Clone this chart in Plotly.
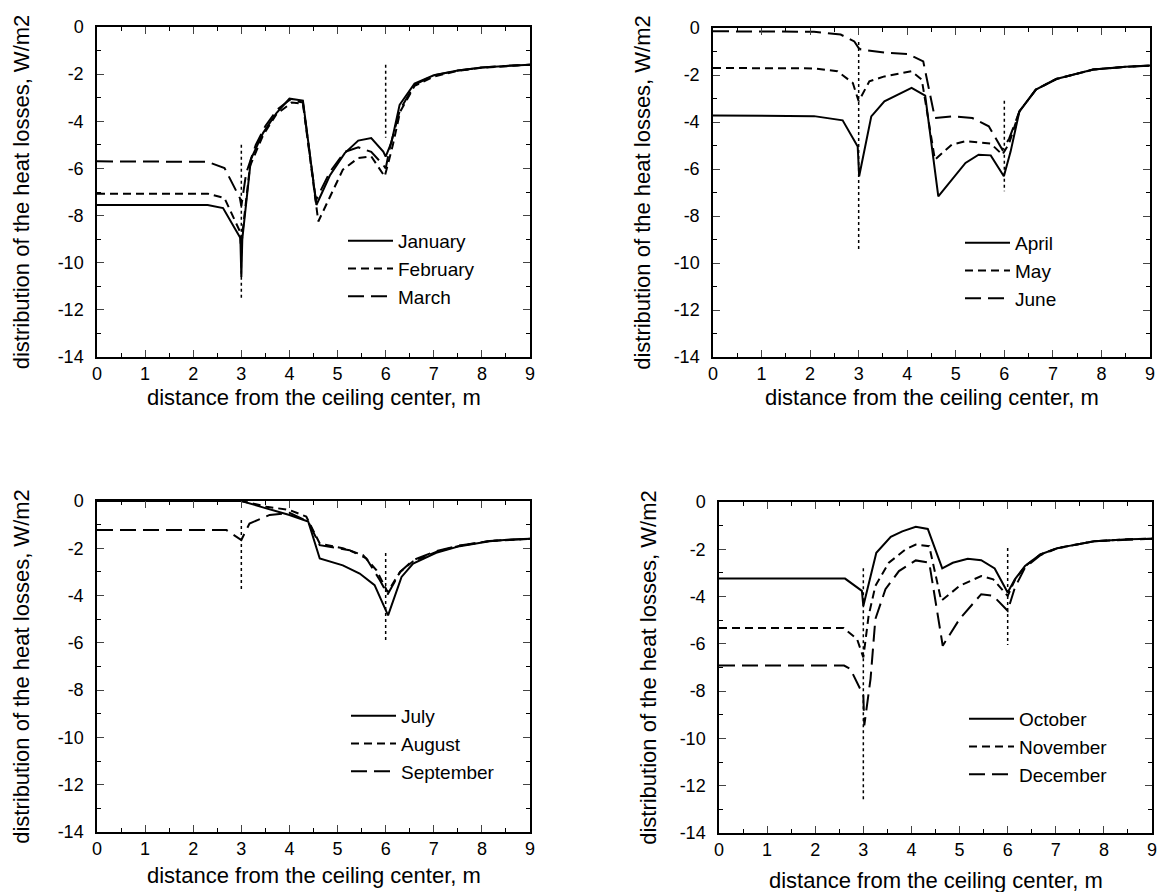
import plotly.graph_objects as go

# ---------------- data ----------------
months = ["January", "February", "March", "April", "May", "June",
          "July", "August", "September", "October", "November", "December"]

jan_x = [0, 1, 2, 2.3, 2.62, 2.98, 3.0, 3.02, 3.2, 3.45, 3.73, 4.0, 4.28, 4.56, 4.84, 5.15, 5.43, 5.7, 5.95, 6.0, 6.12, 6.29, 6.6, 7.0, 7.5, 8.0, 8.5, 9.0]
jan_y = [-7.55, -7.55, -7.55, -7.55, -7.68, -8.95, -10.6, -9.0, -5.6, -4.5, -3.65, -3.04, -3.12, -7.55, -6.3, -5.35, -4.82, -4.71, -5.28, -5.5, -4.9, -3.3, -2.4, -2.05, -1.85, -1.72, -1.65, -1.6]
feb_x = [0, 1, 2, 2.3, 2.65, 2.97, 3.0, 3.02, 3.18, 3.45, 3.73, 4.05, 4.28, 4.6, 5.11, 5.43, 5.7, 5.98, 6.05, 6.15, 6.3, 6.6, 7.0, 7.5, 8.0, 8.5, 9.0]
feb_y = [-7.07, -7.07, -7.07, -7.07, -7.26, -8.67, -9.6, -8.8, -5.9, -4.6, -3.7, -3.2, -3.25, -8.25, -6.05, -5.56, -5.49, -6.34, -5.8, -5.0, -3.6, -2.5, -2.1, -1.86, -1.73, -1.65, -1.6]
mar_x = [0, 1, 2, 2.3, 2.65, 2.97, 3.0, 3.1, 3.3, 3.5, 3.75, 4.0, 4.28, 4.55, 4.84, 5.15, 5.43, 5.7, 5.95, 6.0, 6.1, 6.3, 6.6, 7.0, 7.5, 8.0, 8.5, 9.0]
mar_y = [-5.7, -5.7, -5.7, -5.72, -5.98, -7.26, -7.6, -6.2, -5.0, -4.2, -3.5, -3.1, -3.2, -7.35, -6.15, -5.3, -5.1, -5.3, -5.85, -6.0, -5.0, -3.5, -2.45, -2.05, -1.85, -1.72, -1.65, -1.6]

apr_x = [0, 2.08, 2.67, 2.98, 3.01, 3.26, 3.53, 4.09, 4.37, 4.64, 5.2, 5.47, 5.72, 5.99, 6.13, 6.31, 6.65, 7.07, 7.83, 8.5, 9.0]
apr_y = [-3.72, -3.75, -3.93, -5.04, -6.31, -3.76, -3.12, -2.55, -2.88, -7.16, -5.74, -5.39, -5.42, -6.31, -5.25, -3.55, -2.62, -2.17, -1.77, -1.65, -1.6]
may_x = [0, 2.08, 2.56, 2.88, 3.0, 3.22, 3.53, 4.09, 4.3, 4.57, 4.92, 5.2, 5.72, 5.96, 6.1, 6.31, 6.65, 7.07, 7.83, 8.5, 9.0]
may_y = [-1.7, -1.72, -1.84, -2.34, -3.12, -2.27, -2.06, -1.84, -2.2, -5.6, -4.96, -4.82, -4.92, -5.39, -4.9, -3.55, -2.62, -2.17, -1.77, -1.65, -1.6]
jun_x = [0, 2.08, 2.63, 2.91, 3.0, 3.05, 3.53, 4.02, 4.33, 4.57, 4.92, 5.34, 5.68, 5.96, 6.1, 6.31, 6.65, 7.07, 7.83, 8.5, 9.0]
jun_y = [-0.14, -0.16, -0.28, -0.57, -0.85, -0.92, -1.04, -1.11, -1.42, -3.83, -3.76, -3.83, -4.18, -5.18, -4.7, -3.55, -2.62, -2.17, -1.77, -1.65, -1.6]

jul_x = [0, 3.0, 3.5, 4.0, 4.39, 4.63, 5.11, 5.46, 5.77, 6.05, 6.33, 6.57, 7.05, 7.54, 8.16, 8.6, 9.0]
jul_y = [0, 0, -0.3, -0.59, -0.87, -2.43, -2.72, -3.07, -3.56, -4.84, -3.21, -2.65, -2.19, -1.91, -1.7, -1.63, -1.6]
aug_x = [0, 3.0, 3.52, 4.0, 4.35, 4.63, 5.11, 5.53, 5.81, 6.04, 6.3, 6.57, 7.05, 7.54, 8.16, 8.6, 9.0]
aug_y = [0, 0, -0.24, -0.38, -0.66, -1.8, -2.0, -2.29, -2.93, -3.85, -3.0, -2.55, -2.15, -1.89, -1.69, -1.63, -1.6]
sep_x = [0, 2.69, 3.0, 3.17, 3.59, 4.0, 4.39, 4.63, 5.25, 5.6, 5.88, 6.04, 6.3, 6.57, 7.05, 7.54, 8.16, 8.6, 9.0]
sep_y = [-1.23, -1.23, -1.65, -0.95, -0.59, -0.5, -0.87, -1.87, -2.08, -2.43, -3.35, -3.95, -3.0, -2.5, -2.12, -1.88, -1.69, -1.63, -1.6]

oct_x = [0, 2.62, 2.97, 3.0, 3.27, 3.57, 3.81, 4.09, 4.34, 4.64, 4.86, 5.17, 5.45, 5.73, 6.0, 6.15, 6.36, 6.68, 7.03, 7.8, 8.5, 9.0]
oct_y = [-3.24, -3.24, -3.76, -4.4, -2.15, -1.47, -1.24, -1.05, -1.14, -2.81, -2.57, -2.4, -2.46, -2.81, -3.83, -3.27, -2.71, -2.22, -1.95, -1.66, -1.58, -1.55]
nov_x = [0, 2.59, 2.87, 3.0, 3.11, 3.25, 3.53, 3.88, 4.09, 4.37, 4.62, 5.0, 5.45, 5.7, 6.0, 6.15, 6.36, 6.68, 7.03, 7.8, 8.5, 9.0]
nov_y = [-5.33, -5.33, -5.8, -6.57, -4.81, -3.55, -2.57, -2.0, -1.8, -1.87, -4.18, -3.55, -3.13, -3.27, -3.97, -3.3, -2.72, -2.22, -1.95, -1.66, -1.58, -1.55]
dec_x = [0, 2.6, 2.73, 3.0, 3.02, 3.15, 3.25, 3.46, 3.74, 4.09, 4.37, 4.65, 5.0, 5.45, 5.7, 6.0, 6.15, 6.36, 6.68, 7.03, 7.8, 8.5, 9.0]
dec_y = [-6.92, -6.92, -7.06, -8.18, -9.45, -7.48, -4.95, -3.69, -2.92, -2.47, -2.57, -6.08, -4.95, -3.9, -3.97, -4.6, -3.62, -2.78, -2.25, -1.96, -1.66, -1.58, -1.55]

# dotted marker lines (x position, y top, y bottom) per panel
marker_x = [3, 6]
marker_y = [
    [(-5.0, -11.6), (-1.6, -4.7)],
    [(-0.6, -9.4), (-3.1, -6.95)],
    [(-0.8, -3.85), (-2.2, -5.95)],
    [(-2.8, -12.6), (-1.95, -6.05)],
]

x_ticks = [0, 1, 2, 3, 4, 5, 6, 7, 8, 9]
y_ticks = [0, -2, -4, -6, -8, -10, -12, -14]
y_tick_text = ["0", "-2", "-4", "-6", "-8", "-10", "-12", "-14"]

x_title = "distance from the ceiling center, m"
y_title = "distribution of the heat losses, W/m2"

# ---------------- figure ----------------
W, H = 1157, 892
FONT = "Liberation Sans, Arial, Helvetica, sans-serif"

# panel boxes in pixels: (left, right, top, bottom)
boxes = [(97, 530, 27, 357), (713, 1150, 28, 357), (97, 530, 501, 832), (719, 1152, 502, 833)]
x_title_center_y = [397, 397, 875, 880]
y_title_standoff = [22, 17, 22, 17]
legend_pos = [(343, 222), (960, 224), (346, 697), (964, 700)]

series = [
    [(jan_x, jan_y), (feb_x, feb_y), (mar_x, mar_y)],
    [(apr_x, apr_y), (may_x, may_y), (jun_x, jun_y)],
    [(jul_x, jul_y), (aug_x, aug_y), (sep_x, sep_y)],
    [(oct_x, oct_y), (nov_x, nov_y), (dec_x, dec_y)],
]
dashes = ["solid", "8px,5px", "16px,7px"]

fig = go.Figure()
layout = dict(width=W, height=H, autosize=False,
              margin=dict(l=0, r=0, t=0, b=0, pad=0),
              paper_bgcolor="white", plot_bgcolor="white",
              font=dict(family=FONT, color="black", size=18),
              showlegend=True)
annotations = []

for p in range(4):
    sfx = "" if p == 0 else str(p + 1)
    xa, ya = "x" + sfx, "y" + sfx
    lg = "legend" + sfx
    for k in range(3):
        sx, sy = series[p][k]
        fig.add_trace(go.Scatter(x=sx, y=sy, mode="lines", name=months[3 * p + k],
                                 xaxis=xa, yaxis=ya, legend=lg,
                                 line=dict(color="black", width=2, dash=dashes[k])))
    for m in range(2):
        yt, yb = marker_y[p][m]
        fig.add_trace(go.Scatter(x=[marker_x[m], marker_x[m]], y=[yt, yb], mode="lines",
                                 xaxis=xa, yaxis=ya, showlegend=False, hoverinfo="skip",
                                 line=dict(color="black", width=1.5, dash="dot")))
    l, r, t, b = boxes[p]
    layout["xaxis" + sfx] = dict(
        domain=[l / W, r / W], anchor=ya, range=[0, 9], tickvals=x_ticks,
        ticks="inside", ticklen=7, tickwidth=1, showline=True, linecolor="black",
        linewidth=1.5, mirror="allticks", showgrid=False, zeroline=False,
        tickfont=dict(size=18), automargin=False, ticklabeloverflow="allow",
        minor=dict(ticks="inside", ticklen=4, dtick=0.5, tickcolor="black", showgrid=False))
    layout["yaxis" + sfx] = dict(
        domain=[1 - b / H, 1 - t / H], anchor=xa, range=[-14, 0],
        tickvals=y_ticks, ticktext=y_tick_text,
        ticks="inside", ticklen=7, tickwidth=1, showline=True, linecolor="black",
        linewidth=1.5, mirror="allticks", showgrid=False, zeroline=False,
        tickfont=dict(size=18), automargin=False, ticklabelstandoff=8,
        minor=dict(ticks="inside", ticklen=4, dtick=1, tickcolor="black", showgrid=False),
        title=dict(text=y_title, font=dict(size=22), standoff=y_title_standoff[p]))
    annotations.append(dict(text=x_title, xref="paper", yref="paper",
                            x=(l + r) / 2 / W, y=1 - x_title_center_y[p] / H,
                            xanchor="center", yanchor="middle", showarrow=False,
                            font=dict(size=22, family=FONT, color="black")))
    lx, ly = legend_pos[p]
    layout[lg] = dict(x=lx / W, y=1 - ly / H, xanchor="left", yanchor="top",
                      xref="paper", yref="paper",
                      bgcolor="rgba(0,0,0,0)", borderwidth=0,
                      font=dict(size=19, family=FONT), tracegroupgap=0,
                      itemwidth=45)

layout["annotations"] = annotations
fig.update_layout(**layout)
fig.write_html("out.html", config={"displayModeBar": False},
               post_script="document.body.style.margin='0';")
